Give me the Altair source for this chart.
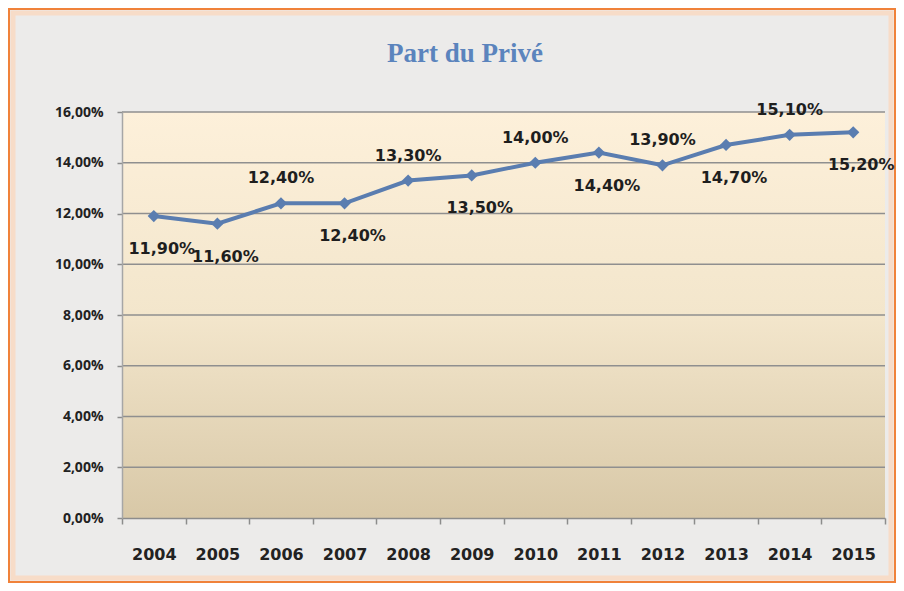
import altair as alt
import pandas as pd

years = ["2004", "2005", "2006", "2007", "2008", "2009",
         "2010", "2011", "2012", "2013", "2014", "2015"]
values = [11.9, 11.6, 12.4, 12.4, 13.3, 13.5, 14.0, 14.4, 13.9, 14.7, 15.1, 15.2]
label_side = ["below", "below", "above", "below", "above", "below",
              "above", "below", "above", "below", "above", "below"]
y_ticks = [0, 2, 4, 6, 8, 10, 12, 14, 16]
title_text = "Part du Privé"

df = pd.DataFrame({"year": years, "value": values, "side": label_side})
df["label"] = [f"{v:.2f}".replace(".", ",") + "%" for v in values]
grid_df = pd.DataFrame({"tick": y_ticks[1:]})
one = pd.DataFrame({"t": [title_text]})

W, H = 763, 406
LINE = "#5a7db0"
FONT = "DejaVu Sans"

x_enc = alt.X("year:O", title=None, bandPosition=0.5,
              scale=alt.Scale(type="band", paddingInner=0, paddingOuter=0),
              axis=alt.Axis(tickBand="extent", labelAngle=0, labelFont=FONT,
                            labelFontWeight="bold", labelFontSize=16,
                            labelColor="#222222", labelPadding=22, tickSize=6,
                            tickColor="#8c8c8c", domainColor="#8c8c8c",
                            domainWidth=1.5, tickWidth=1.5, zindex=1))
y_enc = alt.Y("value:Q", title=None,
              scale=alt.Scale(domain=[0, 16], nice=False, zero=True),
              axis=alt.Axis(values=y_ticks, labelExpr="replace(format(datum.value, '.2f'), '.', ',') + '%'",
                            labelFont="Open Sans", labelFontWeight="bold", labelFontSize=14,
                            labelColor="#222222", labelPadding=14, tickSize=5,
                            tickColor="#8c8c8c", domainColor="#a6a6a6", domainWidth=1.5,
                            tickWidth=1.5, grid=False, zindex=1))

gradient = alt.Gradient(
    gradient="linear", x1=0, x2=0, y1=0, y2=1,
    stops=[alt.GradientStop(color="#fdf0da", offset=0),
           alt.GradientStop(color="#f3e6cc", offset=0.5),
           alt.GradientStop(color="#d8c8a7", offset=1)])

frame_outer = alt.Chart(one).mark_rect(fill=None, stroke="#f0823a", strokeWidth=2).encode(
    x=alt.value(-113), x2=alt.value(W + 10), y=alt.value(-103), y2=alt.value(H + 64))
frame_inner = alt.Chart(one).mark_rect(fill=None, stroke="#f7dcc8", strokeWidth=5).encode(
    x=alt.value(-109), x2=alt.value(W + 6), y=alt.value(-99), y2=alt.value(H + 60))
plot_bg = alt.Chart(one).mark_rect(fill=gradient).encode(
    x=alt.value(0), x2=alt.value(W), y=alt.value(0), y2=alt.value(H))
title = alt.Chart(one).mark_text(font="Liberation Serif", fontSize=27, fontWeight="bold",
                                 color="#5b84bd", baseline="middle").encode(
    x=alt.value(343), y=alt.value(-58), text="t:N")

grid = alt.Chart(grid_df).mark_rule(color="#8f8f8f", strokeWidth=1.5).encode(
    y=alt.Y("tick:Q", scale=alt.Scale(domain=[0, 16])), x=alt.value(0), x2=alt.value(W))

base = alt.Chart(df)
line = base.mark_line(color=LINE, strokeWidth=4).encode(x=x_enc, y=y_enc)
pts = base.mark_point(shape="diamond", filled=True, color=LINE, size=150, opacity=1).encode(
    x=alt.X("year:O", bandPosition=0.5), y="value:Q")
lab_above = base.transform_filter(alt.datum.side == "above").mark_text(
    font=FONT, fontWeight="bold", fontSize=16, color="#1e1e1e", dy=-25).encode(
    x=alt.X("year:O", bandPosition=0.5), y="value:Q", text="label:N")
lab_below = base.transform_filter(alt.datum.side == "below").mark_text(
    font=FONT, fontWeight="bold", fontSize=16, color="#1e1e1e", dy=33, dx=8).encode(
    x=alt.X("year:O", bandPosition=0.5), y="value:Q", text="label:N")

chart = alt.layer(frame_outer, frame_inner, plot_bg, grid, line, pts, lab_above, lab_below, title).properties(
    width=W, height=H,
    autosize=alt.AutoSizeParams(type="none"),
    padding={"left": 114, "top": 104, "right": 11, "bottom": 65},
    background="#ecebea",
).configure_view(stroke=None)

chart.save("out.html", embed_options={"renderer": "svg", "actions": False})
